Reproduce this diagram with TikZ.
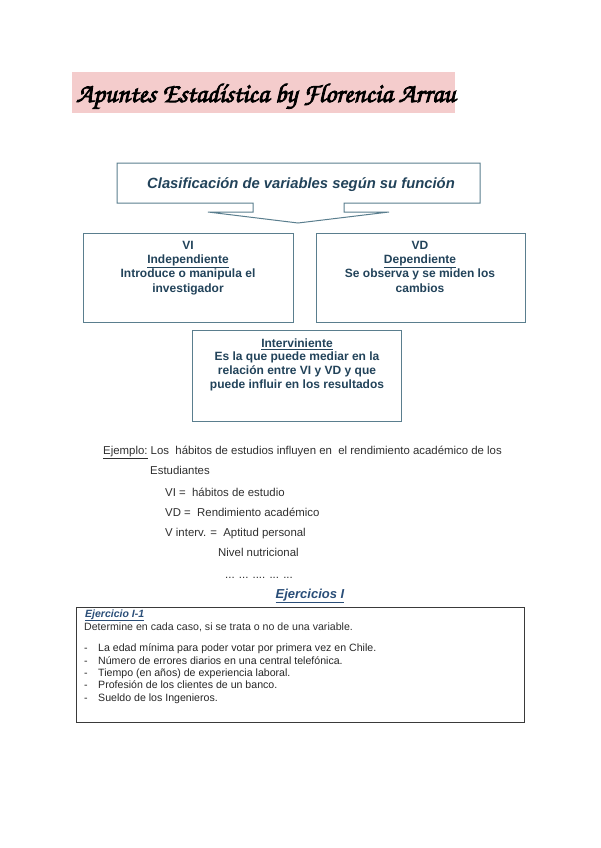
\documentclass[tikz,border=0pt]{standalone}
\usepackage{fontspec}
\setmainfont{Liberation Sans}
\newfontfamily\titlefont[AutoFakeBold=3]{TeX Gyre Chorus}
\definecolor{pinkbg}{HTML}{F4CCCC}
\definecolor{boxline}{HTML}{5A7E8E}
\definecolor{boxtext}{HTML}{22435A}
\definecolor{bodytext}{HTML}{2E2E2E}
\definecolor{exblue}{HTML}{2A4E78}
\definecolor{exline}{HTML}{3A3A3A}
\tikzset{
  varbox/.style={draw=boxline, line width=1pt, fill=white, inner sep=0pt},
  boxlabel/.style={text=boxtext, font=\fontsize{12}{14.3}\selectfont\bfseries, align=center, anchor=base, inner sep=0pt},
  bodyline/.style={text=bodytext, font=\fontsize{11.4}{13}\selectfont, anchor=base west, inner sep=0pt},
  itemline/.style={text=black!85, font=\fontsize{10.6}{12}\selectfont, anchor=base west, inner sep=0pt},
}
\begin{document}
\begin{tikzpicture}[x=1pt,y=-1pt]
\useasboundingbox (0,0) rectangle (600,848);

% title
\node[fill=pinkbg, minimum width=383, minimum height=41, inner sep=0pt, anchor=north west] (titlebg) at (72,72) {};
\node[anchor=base west, inner sep=0pt, font=\titlefont\fontsize{27}{30}\selectfont\bfseries] (title) at (76,102) {Apuntes Estadística by Florencia Arrau};

% top box with arrow
\draw[draw=boxline, line width=1pt, fill=white, line join=miter]
  (117,163) -- (480,163) -- (480,203) -- (344,203) -- (344,212) -- (389,212)
  -- (298,223) -- (208,212) -- (253,212) -- (253,203) -- (117,203) -- cycle;
\node[anchor=base, inner sep=0pt, text=boxtext, font=\fontsize{14.8}{16}\selectfont\bfseries\itshape] (clas) at (301,188) {Clasificación de variables según su función};

% VI / VD / intervening boxes (base anchor = last line baseline)
\node[varbox, anchor=north west, minimum width=210, minimum height=89] (vibox) at (83,233) {};
\node[boxlabel] (vitext) at (188,292) {VI\\\underline{Independiente}\\Introduce o manipula el\\investigador};

\node[varbox, anchor=north west, minimum width=209, minimum height=89] (vdbox) at (316,233) {};
\node[boxlabel] (vdtext) at (420,292) {VD\\\underline{Dependiente}\\Se observa y se miden los\\cambios};

\node[varbox, anchor=north west, minimum width=209, minimum height=91] (inbox) at (192,330) {};
\node[boxlabel, font=\fontsize{12}{13.6}\selectfont\bfseries] (intext) at (297,388) {\underline{Interviniente}\\Es la que puede mediar en la\\relación entre VI y VD y que\\puede influir en los resultados};

% example
\node[bodyline] (ej1) at (103,454) {\underline{Ejemplo:} Los\ \ hábitos de estudios influyen en\ \ el rendimiento académico de los};
\node[bodyline] (ej2) at (150,474) {Estudiantes};
\node[bodyline] (ej3) at (165,496) {VI =\ \ hábitos de estudio};
\node[bodyline] (ej4) at (165,516) {VD =\ \ Rendimiento académico};
\node[bodyline] (ej5) at (165,536) {V interv. =\ \ Aptitud personal};
\node[bodyline] (ej6) at (218,556) {Nivel nutricional};
\node[bodyline] (ej7) at (225,578) {... ... .... ... ...};

\node[anchor=base, inner sep=0pt, text=exblue, font=\fontsize{13}{15}\selectfont\bfseries\itshape] (ejer) at (310,598) {\underline{Ejercicios I}};

% exercise box
\node[draw=exline, line width=1.3pt, anchor=north west, minimum width=448, minimum height=115, inner sep=0pt] (exbox) at (76,607) {};
\node[anchor=base west, inner sep=0pt, text=exblue, font=\fontsize{10.5}{12}\selectfont\bfseries\itshape] (ex1) at (85,617) {\underline{Ejercicio I-1}};
\node[itemline, text=bodytext] (det) at (84,630) {Determine en cada caso, si se trata o no de una variable.};

\foreach \yy/\txt [count=\i] in {651/{La edad mínima para poder votar por primera vez en Chile.},
  664/{Número de errores diarios en una central telefónica.},
  676/{Tiempo (en años) de experiencia laboral.},
  688/{Profesión de los clientes de un banco.},
  701/{Sueldo de los Ingenieros.}}{
  \node[itemline] (dash\i) at (84,\yy) {-};
  \node[itemline] (item\i) at (98,\yy) {\txt};
}
\end{tikzpicture}
\end{document}
